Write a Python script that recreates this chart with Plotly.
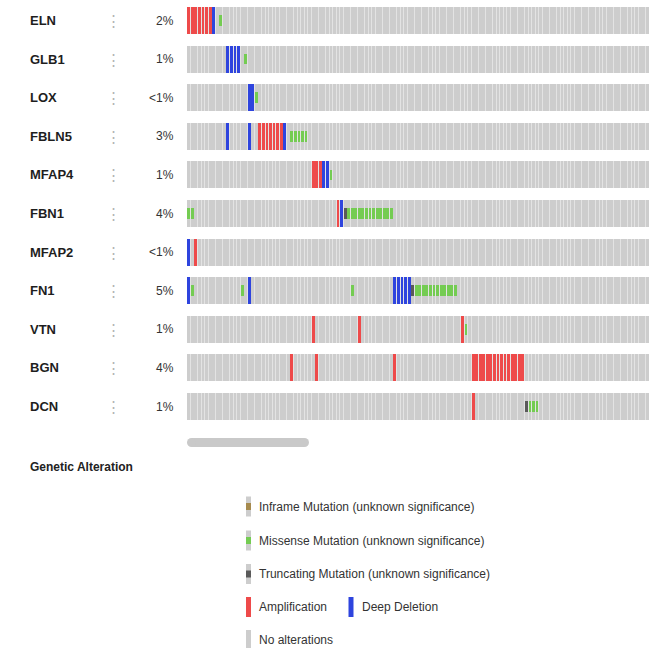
import plotly.graph_objects as go

# ---- data -------------------------------------------------------------
genes = ["ELN", "GLB1", "LOX", "FBLN5", "MFAP4", "FBN1", "MFAP2", "FN1", "VTN", "BGN", "DCN"]
pct_labels = ["2%", "1%", "<1%", "3%", "1%", "4%", "<1%", "5%", "1%", "4%", "1%"]
n_samples = 130  # samples shown in the visible window

amplification = {
    "ELN": [0, 1, 2, 3, 4, 5, 6],
    "FBLN5": [20, 21, 22, 23, 24, 25, 26],
    "MFAP4": [35, 36, 37],
    "FBN1": [42],
    "MFAP2": [2],
    "VTN": [35, 48, 77],
    "BGN": [29, 36, 58] + list(range(80, 95)),
    "DCN": [80],
}
deep_deletion = {
    "ELN": [7],
    "GLB1": [11, 12, 13, 14],
    "LOX": [17, 18],
    "FBLN5": [11, 17, 27],
    "MFAP4": [38, 39],
    "FBN1": [43],
    "MFAP2": [0],
    "FN1": [0, 17, 58, 59, 60, 61, 62],
}
missense = {
    "ELN": [9],
    "GLB1": [16],
    "LOX": [19],
    "FBLN5": [29, 30, 31, 32, 33],
    "MFAP4": [40],
    "FBN1": [0, 1] + list(range(45, 58)),
    "FN1": [1, 15, 46] + list(range(64, 76)),
    "VTN": [78],
    "DCN": [96, 97, 98],
}
truncating = {
    "FBN1": [44],
    "FN1": [63],
    "DCN": [95],
}

legend_rows = [
    "Inframe Mutation (unknown significance)",
    "Missense Mutation (unknown significance)",
    "Truncating Mutation (unknown significance)",
    "Amplification",
    "No alterations",
]

# ---- styling ----------------------------------------------------------
W, H = 659, 648
X_LEFT, X_RIGHT = 187, 649
ROW0, PITCH = 20.5, 38.6
FONT = "Liberation Sans, Arial, Helvetica, sans-serif"

C_GAP = "#e3e3e3"
C_NONE = "#cdcdcd"
C_AMP = "#ee4a4a"
C_DEL = "#2e44de"
C_MIS = "#74cc52"
C_TRUNC = "#5a5a5a"
C_INFRAME = "#a68a4e"

FULL_H = 0.70   # full cell height (fraction of row pitch)
MUT_H = 0.27    # mutation glyph height
BAR_W = 0.80


def px_x(p):
    return p / W


def px_y(p):
    return 1 - p / H


fig = go.Figure()


def add_cells(mapping, color, height, width=BAR_W):
    xs, ys, bases = [], [], []
    for gene, cols in mapping.items():
        i = genes.index(gene)
        for c in cols:
            xs.append(c)
            ys.append(height)
            bases.append(i - height / 2)
    fig.add_trace(go.Bar(x=xs, y=ys, base=bases, width=width,
                         marker=dict(color=color, line=dict(width=0)),
                         hoverinfo="skip"))


all_cells = {g: list(range(n_samples)) for g in genes}
# light track underneath so column separators read as thin pale lines
add_cells(all_cells, C_GAP, FULL_H, width=1.0)
# grey "no alteration" cells for every gene x sample
add_cells(all_cells, C_NONE, FULL_H)
add_cells(amplification, C_AMP, FULL_H)
add_cells(deep_deletion, C_DEL, FULL_H)
add_cells(missense, C_MIS, MUT_H)
add_cells(truncating, C_TRUNC, MUT_H)

annotations = []
for i, (g, p) in enumerate(zip(genes, pct_labels)):
    annotations.append(dict(x=px_x(28), y=i, xref="paper", yref="y", text=f"<b>{g}</b>",
                            showarrow=False, xanchor="left", yanchor="middle",
                            font=dict(family=FONT, size=13, color="#1e1e1e")))
    annotations.append(dict(x=px_x(113), y=i, xref="paper", yref="y", text="⋮",
                            showarrow=False, xanchor="center", yanchor="middle",
                            font=dict(family=FONT, size=15, color="#b4b4b4")))
    annotations.append(dict(x=px_x(176), y=i, xref="paper", yref="y", text=p,
                            showarrow=False, xanchor="right", yanchor="middle",
                            font=dict(family=FONT, size=12, color="#333333")))

annotations.append(dict(x=px_x(28), y=px_y(467), xref="paper", yref="paper",
                        text="<b>Genetic Alteration</b>", showarrow=False,
                        xanchor="left", yanchor="middle",
                        font=dict(family=FONT, size=12, color="#222222")))

shapes = []

# horizontal scrollbar
sb_y0, sb_y1 = 438, 447
shapes.append(dict(type="rect", xref="paper", yref="paper",
                   x0=px_x(191.5), x1=px_x(304.5), y0=px_y(sb_y1), y1=px_y(sb_y0),
                   fillcolor="#c9c9c9", line=dict(width=0)))
for cx in (191.5, 304.5):
    shapes.append(dict(type="circle", xref="paper", yref="paper",
                       x0=px_x(cx - 4.5), x1=px_x(cx + 4.5), y0=px_y(sb_y1), y1=px_y(sb_y0),
                       fillcolor="#c9c9c9", line=dict(width=0)))

# legend key
leg_y = [506.5, 540.5, 574, 607, 640]
inner = [C_INFRAME, C_MIS, C_TRUNC, None, None]
for k, (label, yc) in enumerate(zip(legend_rows, leg_y)):
    base_col = C_AMP if label == "Amplification" else C_NONE
    shapes.append(dict(type="rect", xref="paper", yref="paper",
                       x0=px_x(246), x1=px_x(251), y0=px_y(yc + 10), y1=px_y(yc - 10),
                       fillcolor=base_col, line=dict(width=0)))
    if inner[k]:
        shapes.append(dict(type="rect", xref="paper", yref="paper",
                           x0=px_x(246), x1=px_x(251), y0=px_y(yc + 3.5), y1=px_y(yc - 3.5),
                           fillcolor=inner[k], line=dict(width=0)))
    annotations.append(dict(x=px_x(257), y=px_y(yc), xref="paper", yref="paper",
                            text=label, showarrow=False, xanchor="left", yanchor="middle",
                            font=dict(family=FONT, size=12, color="#333333")))

# deep deletion sits on the amplification row
shapes.append(dict(type="rect", xref="paper", yref="paper",
                   x0=px_x(348.5), x1=px_x(353.5), y0=px_y(leg_y[3] + 10), y1=px_y(leg_y[3] - 10),
                   fillcolor=C_DEL, line=dict(width=0)))
annotations.append(dict(x=px_x(360), y=px_y(leg_y[3]), xref="paper", yref="paper",
                        text="Deep Deletion", showarrow=False, xanchor="left", yanchor="middle",
                        font=dict(family=FONT, size=12, color="#333333")))

fig.update_layout(
    width=W, height=H,
    margin=dict(l=0, r=0, t=0, b=0),
    paper_bgcolor="white", plot_bgcolor="white",
    barmode="overlay", bargap=0, showlegend=False,
    xaxis=dict(domain=[X_LEFT / W, X_RIGHT / W], range=[-0.5, n_samples - 0.5],
               visible=False, fixedrange=True),
    yaxis=dict(domain=[0, 1], range=[(H - ROW0) / PITCH, -ROW0 / PITCH],
               visible=False, fixedrange=True),
    annotations=annotations,
    shapes=shapes,
)

fig.write_html("out.html", config={"displayModeBar": False})
